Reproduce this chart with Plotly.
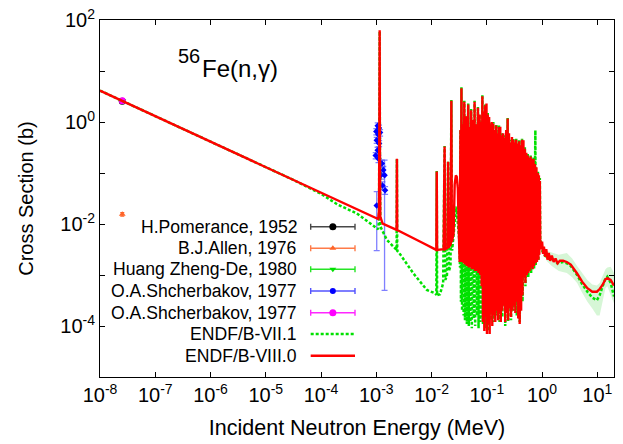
import math
import plotly.graph_objects as go

FONT = "Liberation Sans, Arial, Helvetica, sans-serif"

# ---------------- experimental data ----------------
e_pomerance = [2.53e-8]
s_pomerance = [2.55]

e_allen = [2.53e-8]
s_allen = [0.0155]
ds_allen = [0.0012]

e_huang = [2.53e-8]
s_huang = [2.58]

e_shch_a = [1.06e-3, 1.12e-3, 1.00e-3, 1.09e-3, 1.17e-3, 1.017e-3, 1.125e-3, 1.055e-3,
            0.975e-3, 1.095e-3, 1.26e-3, 1.34e-3, 1.22e-3, 1.41e-3, 1.29e-3, 1.44e-3, 1.017e-3]
s_shch_a = [0.84, 0.76, 0.65, 0.56, 0.62, 0.44, 0.38, 0.28,
            0.22, 0.19, 0.154, 0.114, 0.091, 0.090, 0.057, 0.046, 0.023]
ds_shch_a = [0.12, 0.11, 0.09, 0.08, 0.09, 0.06, 0.05, 0.04,
             0.03, 0.03, 0.025, 0.02, 0.015, 0.0895, 0.01, 0.008, 0.020]

e_shch_b = [2.53e-8]
s_shch_b = [2.60]

# ---------------- ENDF/B-VIII.0 ----------------
e_viii_low = [1.0e-8, 1.08e-3, 1.12e-3, 1.14e-3, 1.15e-3, 1.16e-3, 1.18e-3, 1.30e-3,
              2.33e-3, 2.36e-3, 2.39e-3, 7.1e-3, 1.22e-2, 1.24e-2, 1.26e-2,
              1.65e-2, 1.72e-2, 1.76e-2, 1.95e-2, 1.99e-2, 2.04e-2, 2.22e-2, 2.28e-2,
              2.33e-2, 2.50e-2, 2.62e-2, 2.75e-2, 2.85e-2, 2.99e-2, 3.10e-2, 3.22e-2]
s_viii_low = [4.12, 0.0125, 0.018, 0.5, 63.0, 0.5, 0.014, 0.0102,
              0.0077, 0.19, 0.0076, 0.0042, 0.0031, 0.107, 0.0031,
              0.0032, 0.33, 0.0032, 0.0034, 0.166, 0.0035, 0.0040, 2.6,
              0.0045, 0.0065, 0.06, 0.09, 0.085, 0.05, 0.008, 0.0018]

e_viii_forest = [0.0333, 0.0340, 0.0347, 0.0356, 0.0372, 0.0380, 0.0391, 0.0402, 0.0425, 0.0435,
                 0.0460, 0.0472, 0.0495, 0.0505, 0.0520, 0.0535, 0.0565, 0.0578, 0.0600, 0.0615,
                 0.0645, 0.0660, 0.0690, 0.0708, 0.0740, 0.0760, 0.0790, 0.0805, 0.0830, 0.0850,
                 0.0880, 0.0900, 0.0935, 0.0955, 0.0985, 0.1005, 0.1040, 0.1065, 0.1100, 0.1125,
                 0.1160, 0.1185, 0.1230, 0.1255, 0.1310, 0.1335, 0.1390, 0.1420, 0.1480, 0.1510,
                 0.1570, 0.1600, 0.1660, 0.1700, 0.1750, 0.1790, 0.1860, 0.1900, 0.1980, 0.2020,
                 0.2100, 0.2150, 0.2240, 0.2290, 0.2380, 0.2430, 0.2520, 0.2580, 0.2680, 0.2740,
                 0.2850, 0.2910, 0.3020, 0.3090, 0.3210, 0.3280, 0.3400, 0.3480, 0.3620, 0.3700,
                 0.3850, 0.3930, 0.4080, 0.4170, 0.4330, 0.4420, 0.4600, 0.4700, 0.4880, 0.4990,
                 0.5180, 0.5290, 0.5500, 0.5620, 0.5840, 0.5970, 0.6200, 0.6330, 0.6600, 0.6740,
                 0.7000, 0.7150, 0.7430, 0.7590, 0.7900, 0.8070, 0.8400, 0.8580, 0.8750, 0.8900,
                 0.9100, 0.9250]
s_viii_forest = [0.70, 0.0022, 4.6, 0.0018, 0.90, 0.0017, 2.5, 0.0016, 1.3, 0.0015,
                 2.2, 0.0014, 0.80, 0.0014, 1.7, 0.0013, 1.1, 0.0013, 2.5, 0.0012,
                 0.90, 0.0012, 1.9, 0.0011, 1.4, 0.0010, 1.0, 0.0006, 3.2, 0.00012,
                 1.6, 0.00008, 2.1, 0.00015, 2.3, 0.00007, 1.4, 0.00011, 1.25, 0.00007,
                 0.90, 0.00018, 1.0, 0.00010, 0.93, 0.00016, 0.70, 0.00012, 0.85, 0.00020,
                 0.60, 0.00013, 0.80, 0.00018, 0.81, 0.00012, 0.55, 0.00020, 0.60, 0.00025,
                 0.50, 0.00012, 0.70, 0.00018, 1.17, 0.00013, 0.60, 0.00022, 0.40, 0.00015,
                 0.51, 0.00020, 0.45, 0.00025, 0.40, 0.00018, 0.45, 0.00030, 0.38, 0.00014,
                 0.42, 0.00011, 0.35, 0.00020, 0.45, 0.00040, 0.44, 0.00090, 0.30, 0.00070,
                 0.25, 0.00100, 0.22, 0.00110, 0.20, 0.00120, 0.21, 0.00140, 0.19, 0.00130,
                 0.19, 0.00150, 0.15, 0.00170, 0.13, 0.00180, 0.10, 0.00200, 0.09, 0.00250,
                 0.07, 0.00490]

e_viii_fast = [0.97, 1.00, 1.04, 1.08, 1.13, 1.19, 1.25, 1.32, 1.40, 1.50, 1.62, 1.75, 1.90,
               2.10, 2.40, 2.80, 3.30, 3.80, 4.30, 5.30, 6.60, 8.10, 9.80, 11.0, 12.3, 14.0,
               15.1, 17.4, 20.0]
s_viii_fast = [0.0032, 0.0045, 0.0026, 0.0036, 0.0023, 0.0032, 0.0020, 0.0027, 0.0019, 0.0024,
               0.0018, 0.0021, 0.0017, 0.0019, 0.0019, 0.0018, 0.0016, 0.0013, 0.00107, 0.00074,
               0.00055, 0.00047, 0.00047, 0.00053, 0.00063, 0.00082, 0.00087, 0.00080, 0.00062]

# ---------------- ENDF/B-VII.1 ----------------
e_vii_low = [1.0e-8, 3.0e-5, 1.0e-4, 2.0e-4, 4.4e-4, 1.0e-3, 1.08e-3, 1.12e-3, 1.14e-3, 1.15e-3,
             1.16e-3, 1.18e-3, 1.55e-3, 2.33e-3, 2.36e-3, 2.39e-3, 2.6e-3, 4.7e-3, 8.2e-3,
             1.14e-2, 1.22e-2, 1.24e-2, 1.26e-2, 1.42e-2, 1.62e-2, 1.72e-2, 1.78e-2, 1.90e-2,
             1.99e-2, 2.06e-2, 2.20e-2, 2.28e-2, 2.35e-2, 2.50e-2, 2.65e-2, 2.80e-2, 2.95e-2,
             3.17e-2, 3.27e-2]
s_vii_low = [4.12, 0.0752, 0.039, 0.024, 0.0162, 0.0082, 0.0079, 0.012, 0.4, 60.0,
             0.4, 0.009, 0.0049, 0.0031, 0.19, 0.0030, 0.0027, 0.00107, 0.00051,
             0.00044, 0.00041, 0.11, 0.00040, 0.00042, 0.00069, 0.34, 0.0008, 0.0010,
             0.17, 0.0012, 0.0015, 2.7, 0.003, 0.006, 0.013, 0.022, 0.012,
             0.0049, 0.0014]

e_vii_forest = [0.0333, 0.0340, 0.0347, 0.0356, 0.0372, 0.0380, 0.0391, 0.0402, 0.0425, 0.0435,
                0.0460, 0.0472, 0.0495, 0.0505, 0.0520, 0.0535, 0.0565, 0.0578, 0.0600, 0.0615,
                0.0645, 0.0660, 0.0690, 0.0708, 0.0740, 0.0760, 0.0790, 0.0805, 0.0830, 0.0850,
                0.0935, 0.0960, 0.1040, 0.1070, 0.1160, 0.1190, 0.1310, 0.1340, 0.1480, 0.1520,
                0.1660, 0.1700, 0.1860, 0.1900, 0.2100, 0.2150, 0.2380, 0.2430, 0.2680, 0.2740,
                0.3020, 0.3090, 0.3400, 0.3480, 0.3850, 0.3930, 0.4330, 0.4420, 0.4880, 0.4990,
                0.5500, 0.5620, 0.6200, 0.6330, 0.7000, 0.7150, 0.7550, 0.7650, 0.8400, 0.8580,
                0.9100, 0.9250]
s_vii_forest = [0.70, 0.00030, 4.8, 0.00020, 0.90, 0.00016, 2.6, 0.00013, 1.3, 0.00011,
                2.3, 0.00010, 0.80, 0.00012, 1.8, 0.00009, 1.1, 0.00014, 2.6, 0.00010,
                0.90, 0.00016, 2.0, 0.00009, 1.4, 0.00012, 1.0, 0.00015, 3.4, 0.00011,
                2.2, 0.00009, 1.5, 0.00008, 0.95, 0.00013, 1.0, 0.00012, 0.90, 0.00016,
                0.85, 0.00012, 0.60, 0.00015, 0.55, 0.00010, 1.2, 0.00012, 0.45, 0.00013,
                0.48, 0.00020, 0.47, 0.00016, 0.44, 0.00012, 0.47, 0.00030, 0.32, 0.00060,
                0.24, 0.00090, 0.22, 0.00110, 0.20, 0.00130, 0.69, 0.00150, 0.11, 0.00190,
                0.08, 0.00450]

e_vii_fast = [0.95, 1.00, 1.10, 1.25, 1.50, 1.90, 2.40, 2.80, 3.30, 4.30, 5.30, 6.60, 8.10,
              9.80, 11.0, 12.3, 14.0, 15.1, 17.4, 20.0]
s_vii_fast = [0.0045, 0.0030, 0.0025, 0.0021, 0.0021, 0.0017, 0.0018, 0.0017, 0.0015, 0.0010,
              0.00066, 0.00047, 0.00036, 0.00032, 0.00040, 0.00058, 0.00085, 0.00093, 0.00070,
              0.00038]

# uncertainty band (ENDF/B-VII.1)
e_band = [1.2, 1.5, 2.0, 2.8, 3.5, 4.3, 5.3, 6.6, 8.1, 9.8, 11.0, 12.3, 14.0, 15.1, 17.4, 20.0]
s_band_hi = [0.0030, 0.0028, 0.0025, 0.0027, 0.0021, 0.0015, 0.0011, 0.00080, 0.00065, 0.00062,
             0.00070, 0.00095, 0.0013, 0.0014, 0.00145, 0.0011]
s_band_lo = [0.0019, 0.0015, 0.0012, 0.0011, 0.0009, 0.0007, 0.00045, 0.00030, 0.00022, 0.00016,
             0.00016, 0.00030, 0.00055, 0.00060, 0.00040, 0.00028]

# ---------------- axis ticks ----------------
x_tick_exps = [-8, -7, -6, -5, -4, -3, -2, -1, 0, 1]
y_label_exps = [-4, -2, 0, 2]
y_minor_exps = [-5, -3, -1, 1]

# ---------------- legend ----------------
legend_labels = ["H.Pomerance, 1952", "B.J.Allen, 1976", "Huang Zheng-De, 1980",
                 "O.A.Shcherbakov, 1977", "O.A.Shcherbakov, 1977", "ENDF/B-VII.1", "ENDF/B-VIII.0"]

C_BLACK = "rgb(0,0,0)"
C_ORANGE = "rgb(255,100,40)"
C_GREEN = "rgb(0,225,0)"
C_BLUE = "rgb(0,0,255)"
C_MAGENTA = "rgb(255,0,255)"
C_RED = "rgb(255,0,0)"

fig = go.Figure()

# band
fig.add_trace(go.Scatter(x=e_band, y=s_band_lo, mode="lines", line=dict(width=0),
                         hoverinfo="skip"))
fig.add_trace(go.Scatter(x=e_band, y=s_band_hi, mode="lines", line=dict(width=0),
                         fill="tonexty", fillcolor="rgba(0,200,0,0.16)", hoverinfo="skip"))

# experimental points
fig.add_trace(go.Scatter(x=e_pomerance, y=s_pomerance, mode="markers",
                         marker=dict(color=C_BLACK, size=7, symbol="circle")))
fig.add_trace(go.Scatter(x=e_allen, y=s_allen, mode="markers",
                         marker=dict(color=C_ORANGE, size=6, symbol="triangle-up"),
                         error_y=dict(type="data", array=ds_allen, color=C_ORANGE,
                                      thickness=1.2, width=2)))
fig.add_trace(go.Scatter(x=e_huang, y=s_huang, mode="markers",
                         marker=dict(color=C_GREEN, size=7, symbol="triangle-down")))
fig.add_trace(go.Scatter(x=e_shch_a, y=s_shch_a, mode="markers",
                         marker=dict(color=C_BLUE, size=5, symbol="diamond"),
                         error_y=dict(type="data", array=ds_shch_a, color="rgba(60,60,255,0.65)",
                                      thickness=1.3, width=3)))
fig.add_trace(go.Scatter(x=e_shch_b, y=s_shch_b, mode="markers",
                         marker=dict(color=C_MAGENTA, size=7, symbol="circle")))

# evaluations
fig.add_trace(go.Scatter(x=e_vii_low + e_vii_forest + e_vii_fast,
                         y=s_vii_low + s_vii_forest + s_vii_fast, mode="lines",
                         line=dict(color=C_GREEN, width=2.5, dash="3px,2px")))
fig.add_trace(go.Scatter(x=e_viii_low + e_viii_forest + e_viii_fast,
                         y=s_viii_low + s_viii_forest + s_viii_fast, mode="lines",
                         line=dict(color=C_RED, width=2.4)))

# ---------------- manual legend (text left of sample) ----------------
leg_rows = [0.4210, 0.3605, 0.3017, 0.2409, 0.1801, 0.1204, 0.0596]
leg_x0, leg_x1 = 0.4099, 0.4961
leg_xc = (leg_x0 + leg_x1) / 2
leg_half = (leg_x1 - leg_x0) / 2
leg_text_x = 0.3872

marker_styles = [(C_BLACK, "circle", 7, "rgba(40,40,40,0.85)"),
                 (C_ORANGE, "triangle-up", 6, "rgba(255,100,40,0.85)"),
                 (C_GREEN, "triangle-down", 6, "rgba(0,225,0,0.85)"),
                 (C_BLUE, "circle", 6, "rgba(40,40,255,0.8)"),
                 (C_MAGENTA, "circle", 7, "rgba(255,0,255,0.85)")]
for i, (col, sym, sz, ecol) in enumerate(marker_styles):
    fig.add_trace(go.Scatter(x=[leg_xc], y=[leg_rows[i]], xaxis="x2", yaxis="y2",
                             mode="markers", marker=dict(color=col, symbol=sym, size=sz),
                             error_x=dict(type="constant", value=leg_half, color=ecol,
                                          thickness=1.4, width=3),
                             hoverinfo="skip"))
fig.add_trace(go.Scatter(x=[leg_x0, leg_x1], y=[leg_rows[5]] * 2, xaxis="x2", yaxis="y2",
                         mode="lines", line=dict(color=C_GREEN, width=2.5, dash="3px,2px"),
                         hoverinfo="skip"))
fig.add_trace(go.Scatter(x=[leg_x0, leg_x1], y=[leg_rows[6]] * 2, xaxis="x2", yaxis="y2",
                         mode="lines", line=dict(color=C_RED, width=2.4), hoverinfo="skip"))

annotations = []
for lab, row in zip(legend_labels, leg_rows):
    annotations.append(dict(x=leg_text_x, y=row, xref="paper", yref="paper", text=lab,
                            showarrow=False, xanchor="right", yanchor="middle",
                            font=dict(family=FONT, size=17.6, color="black")))
# reaction label: mass number as raised small text, then the reaction
annotations.append(dict(x=0.1485, y=0.8997, xref="paper", yref="paper", text="56",
                        showarrow=False, xanchor="left", yanchor="middle",
                        font=dict(family=FONT, size=20, color="black")))
annotations.append(dict(x=0.1940, y=0.8647, xref="paper", yref="paper", text="Fe(n,γ)",
                        showarrow=False, xanchor="left", yanchor="middle",
                        font=dict(family=FONT, size=24, color="black")))

fig.update_layout(
    width=623, height=444,
    margin=dict(l=100, r=9, t=20, b=67, autoexpand=False),
    plot_bgcolor="white", paper_bgcolor="white",
    showlegend=False,
    font=dict(family=FONT, size=20, color="black"),
    annotations=annotations,
    xaxis=dict(type="log", range=[-8, math.log10(20)], automargin=False,
               tickvals=[10.0 ** k for k in x_tick_exps],
               ticktext=["10<sup>%d</sup>" % k for k in x_tick_exps],
               ticks="inside", ticklen=5, tickcolor="black", mirror="ticks",
               showline=True, linecolor="black", linewidth=1,
               showgrid=False, zeroline=False,
               tickfont=dict(family=FONT, size=20),
               title=dict(text="Incident Neutron Energy (MeV)", standoff=14,
                          font=dict(family=FONT, size=21.5))),
    yaxis=dict(type="log", range=[-5, 2], automargin=False,
               tickvals=[10.0 ** k for k in y_label_exps],
               ticktext=["10<sup>%d</sup>" % k for k in y_label_exps],
               minor=dict(tickvals=[10.0 ** k for k in y_minor_exps], ticks="inside",
                          ticklen=5, tickcolor="black", showgrid=False),
               ticks="inside", ticklen=5, tickcolor="black", mirror="ticks",
               showline=True, linecolor="black", linewidth=1,
               showgrid=False, zeroline=False,
               tickfont=dict(family=FONT, size=20),
               title=dict(text="Cross Section (b)", standoff=21,
                          font=dict(family=FONT, size=20))),
    xaxis2=dict(overlaying="x", range=[0, 1], visible=False),
    yaxis2=dict(overlaying="y", range=[0, 1], visible=False),
)

fig.write_html("out.html", config={"displayModeBar": False},
               post_script="document.body.style.margin='0px';")
